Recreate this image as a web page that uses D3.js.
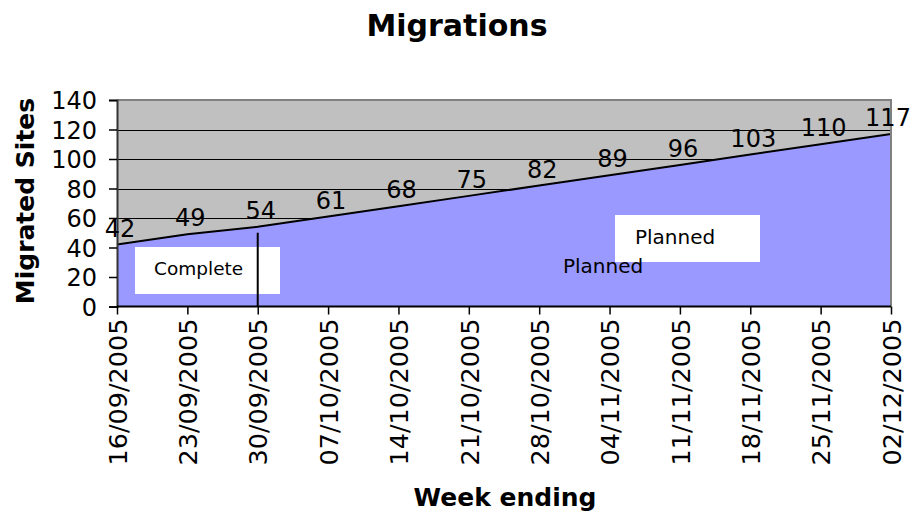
<!DOCTYPE html>
<html><head><meta charset="utf-8">
<script src="https://cdn.jsdelivr.net/npm/d3@7"></script>
<style>body{margin:0;background:#fff}text{font-family:"DejaVu Sans",Verdana,sans-serif}</style>
</head><body>
<svg id="c" width="915" height="512"></svg>
<script>
const weeks = ["16/09/2005","23/09/2005","30/09/2005","07/10/2005","14/10/2005","21/10/2005","28/10/2005","04/11/2005","11/11/2005","18/11/2005","25/11/2005","02/12/2005"];
const sites = [42,49,54,61,68,75,82,89,96,103,110,117];
const yTicks = [0,20,40,60,80,100,120,140];
const title = "Migrations", xTitle = "Week ending", yTitle = "Migrated Sites";
const completeWeek = "30/09/2005";
const completeTo = 50;

const svg = d3.select("#c");
const L = 117, R = 891, T = 100, B = 306.5;
const x = d3.scalePoint().domain(weeks).range([L, R]);
const y = d3.scaleLinear().domain([0, 140]).range([B, T]);

svg.append("rect").attr("x", L).attr("y", T).attr("width", R - L).attr("height", B - T).attr("fill", "#c0c0c0");
// gridlines
svg.append("g").selectAll("line").data(yTicks.filter(d => d > 0 && d < 140)).join("line")
  .attr("x1", L).attr("x2", R).attr("y1", d => Math.round(y(d)) + 0.5).attr("y2", d => Math.round(y(d)) + 0.5)
  .attr("stroke", "#000").attr("stroke-width", 1);
// area
const data = weeks.map((w, i) => ({w, v: sites[i]}));
svg.append("path").datum(data)
  .attr("d", d3.area().x(d => x(d.w)).y0(B).y1(d => y(d.v)))
  .attr("fill", "#9999ff");
svg.append("path").datum(data)
  .attr("d", d3.line().x(d => x(d.w)).y(d => y(d.v)))
  .attr("fill", "none").attr("stroke", "#000").attr("stroke-width", 2);
// border top/right
svg.append("path").attr("d", `M${L},${T}H${R}V${B}`).attr("fill", "none").attr("stroke", "#808080").attr("stroke-width", 2);

// annotation boxes
svg.append("rect").attr("x", 135).attr("y", 247).attr("width", 145).attr("height", 47).attr("fill", "#fff");
svg.append("text").attr("x", 154).attr("y", 275).attr("font-size", 18.5).text("Complete");
svg.append("line").attr("x1", x(completeWeek)).attr("x2", x(completeWeek)).attr("y1", y(completeTo)).attr("y2", B)
  .attr("stroke", "#000").attr("stroke-width", 2);
svg.append("rect").attr("x", 615).attr("y", 215).attr("width", 145).attr("height", 47).attr("fill", "#fff");
svg.append("text").attr("x", 635).attr("y", 244).attr("font-size", 20).text("Planned");
svg.append("text").attr("x", 563).attr("y", 273).attr("font-size", 20).text("Planned");

// axes
const ya = d3.axisLeft(y).tickValues(yTicks).tickSize(8).tickPadding(12);
const gy = svg.append("g").attr("transform", `translate(${L},0)`).call(ya);
gy.select(".domain").attr("stroke", "#333").attr("stroke-width", 2);
gy.selectAll("line").attr("stroke", "#000").attr("stroke-width", 1.5);
gy.selectAll("text").attr("font-size", 24).attr("font-family", "DejaVu Sans").attr("fill", "#000").attr("dy", "0.36em");

const xa = d3.axisBottom(x).tickSize(8).tickPadding(0);
const gx = svg.append("g").attr("transform", `translate(0,${B})`).call(xa);
gx.select(".domain").attr("stroke", "#000").attr("stroke-width", 2).attr("d", `M${L},0H${R}`);
gx.selectAll("line").attr("stroke", "#000").attr("stroke-width", 1.5);
gx.selectAll("text").attr("font-size", 25.5).attr("font-family", "DejaVu Sans").attr("fill", "#000")
  .attr("transform", "rotate(-90)").attr("text-anchor", "end").attr("x", -12).attr("y", 0).attr("dy", "0.36em");

// data labels
svg.append("g").selectAll("text").data(data).join("text")
  .attr("x", d => Math.min(x(d.w) + 3, 888)).attr("y", d => y(d.v) - 8)
  .attr("text-anchor", "middle").attr("font-size", 24).text(d => d.v);

// titles
svg.append("text").attr("x", 457).attr("y", 36).attr("text-anchor", "middle").attr("font-size", 30).attr("font-weight", "bold").text(title);
svg.append("text").attr("x", 505).attr("y", 506).attr("text-anchor", "middle").attr("font-size", 25).attr("font-weight", "bold").text(xTitle);
svg.append("text").attr("transform", "translate(34,201) rotate(-90)").attr("text-anchor", "middle").attr("font-size", 25).attr("font-weight", "bold").text(yTitle);
</script>
</body></html>
